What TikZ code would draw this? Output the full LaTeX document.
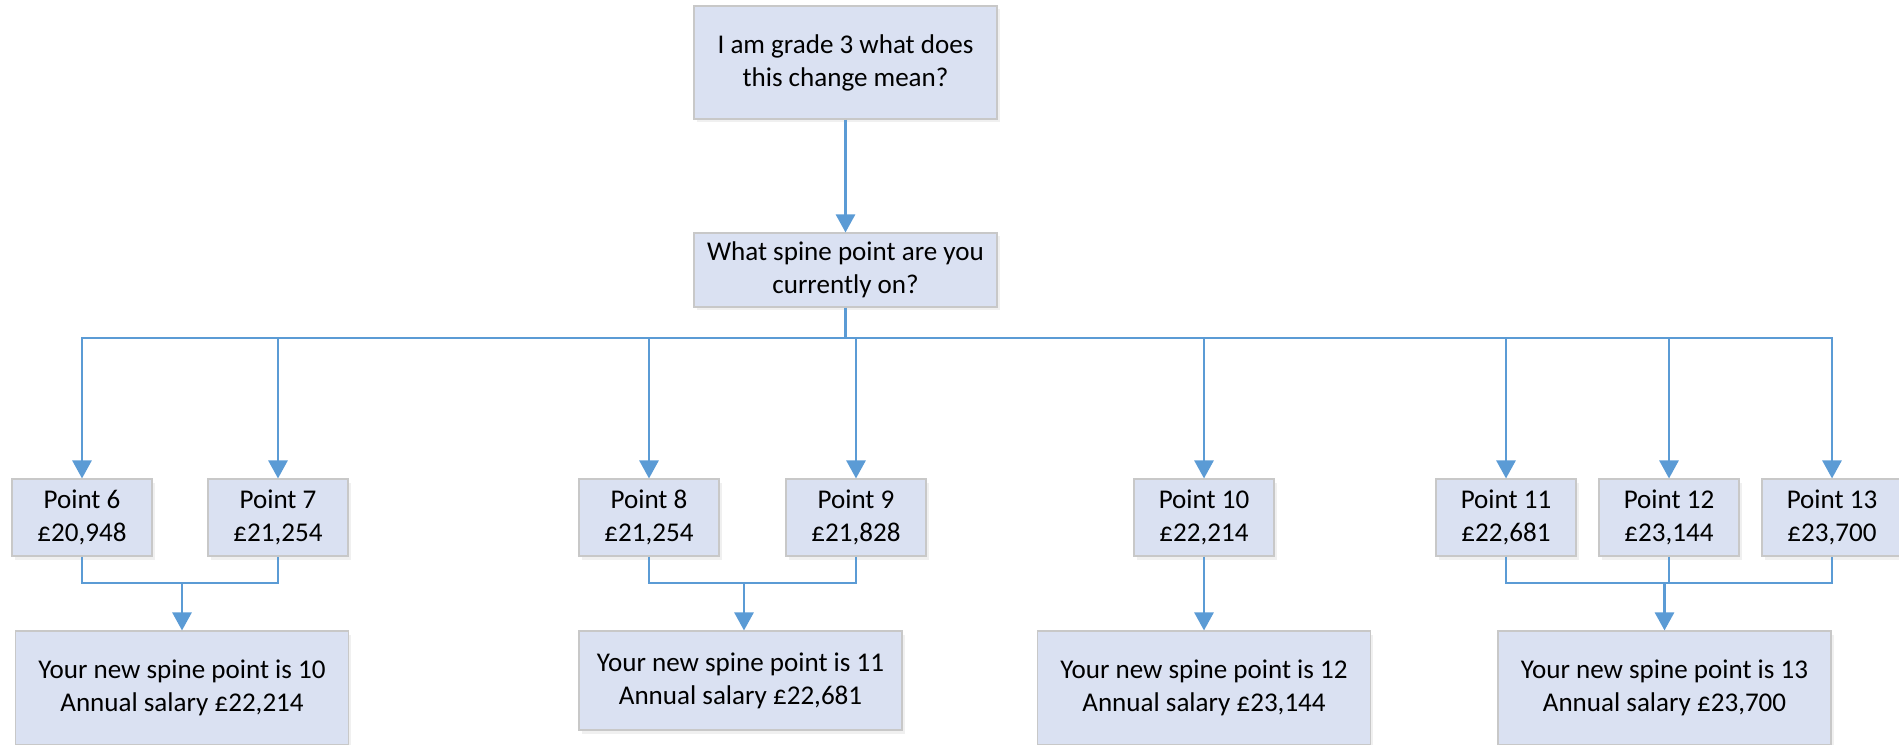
\documentclass[tikz,border=0pt]{standalone}
\usepackage{fontspec}
\setmainfont{Carlito}
\usepackage{tikz}
\usetikzlibrary{positioning}
\usetikzlibrary{arrows.meta,shadows}
\usepackage{xcolor}
\definecolor{boxfill}{RGB}{218,225,242}
\definecolor{boxline}{RGB}{200,200,200}
\definecolor{flow}{RGB}{91,155,213}

\begin{document}
\begin{tikzpicture}[
    box/.style={rectangle, draw=boxline, line width=0.6pt, fill=boxfill, align=center, inner sep=0pt,
        font=\fontsize{15.4}{18.8}\selectfont,
        drop shadow={opacity=0.12, shadow xshift=0.05cm, shadow yshift=-0.07cm}},
    point/.style={box, minimum width=2.8cm, minimum height=1.54cm},
    result/.style={box, minimum width=6.66cm, minimum height=2.28cm},
    link/.style={draw=flow, line width=1.5pt},
    flowarrow/.style={link, -{Triangle[length=0.36cm, width=0.38cm]}}
]
    \useasboundingbox (0,0) rectangle (37.98,-14.9);

    % Questions
    \node[box, minimum width=6.06cm, minimum height=2.26cm] (grade) at (16.91,-1.25) {I am grade 3 what does\\this change mean?};
    \node[box, minimum width=6.06cm, minimum height=1.48cm] (spine) at (16.91,-5.4) {What spine point are you\\currently on?};
    \draw[flowarrow] (grade) -- (spine);

    % Current spine points
    \node[point] (p6) at (1.64,-10.35) {Point 6\\£20,948};
    \node[point] (p7) at (5.56,-10.35) {Point 7\\£21,254};
    \node[point] (p8) at (12.98,-10.35) {Point 8\\£21,254};
    \node[point] (p9) at (17.12,-10.35) {Point 9\\£21,828};
    \node[point] (p10) at (24.08,-10.35) {Point 10\\£22,214};
    \node[point] (p11) at (30.12,-10.35) {Point 11\\£22,681};
    \node[point] (p12) at (33.38,-10.35) {Point 12\\£23,144};
    \node[point] (p13) at (36.64,-10.35) {Point 13\\£23,700};

    % Branches
    \coordinate (bus) at (16.91,-6.76);
    \draw[link] (spine) -- (bus);
    \foreach \p in {p6,p7,p8,p9,p10,p11,p12,p13}
        \draw[flowarrow] (bus) -| (\p.north);

    % New spine points
    \node[result] (r10) at (3.64,-13.76) {Your new spine point is 10\\Annual salary £22,214};
    \node[result, minimum width=6.46cm, minimum height=1.98cm] (r11) at (14.81,-13.61) {Your new spine point is 11\\Annual salary £22,681};
    \node[result] (r12) at (24.08,-13.76) {Your new spine point is 12\\Annual salary £23,144};
    \node[result] (r13) at (33.29,-13.76) {Your new spine point is 13\\Annual salary £23,700};

    % Merges
    \coordinate (m10) at (3.64,-11.66);
    \draw[link] (p6.south) |- (m10) -| (p7.south);
    \draw[flowarrow] (m10) -- (m10 |- r10.north);

    \coordinate (m11) at (14.88,-11.66);
    \draw[link] (p8.south) |- (m11) -| (p9.south);
    \draw[flowarrow] (m11) -- (m11 |- r11.north);

    \draw[flowarrow] (p10) -- (r12);

    \coordinate (m13) at (33.29,-11.66);
    \draw[link] (p11.south) |- (m13) -| (p13.south);
    \draw[link] (p12.south) -- (p12.south |- m13);
    \draw[flowarrow] (m13) -- (m13 |- r13.north);
\end{tikzpicture}
\end{document}
